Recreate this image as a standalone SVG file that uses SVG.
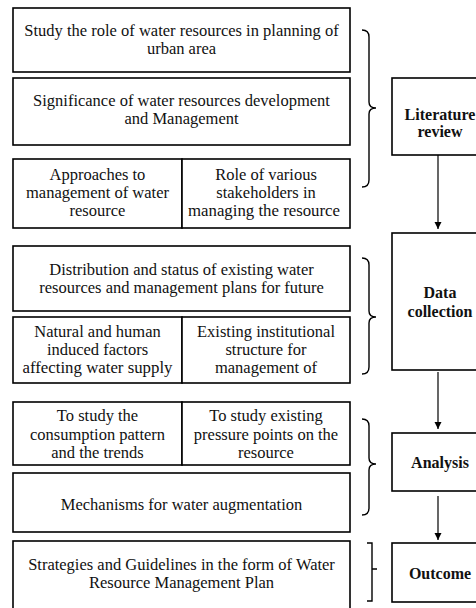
<svg xmlns="http://www.w3.org/2000/svg" width="476" height="608" viewBox="0 0 476 608">
<style>
.b{fill:#fff;stroke:#000;stroke-width:1.6}
.t{font-family:"Liberation Serif","Times New Roman",serif;font-size:16.5px;fill:#111;text-anchor:middle}
.h{font-family:"Liberation Serif","Times New Roman",serif;font-size:16px;font-weight:bold;fill:#111;text-anchor:middle}
.br{fill:none;stroke:#000;stroke-width:1.4}
.c{stroke:#000;stroke-width:1.2;fill:none}
</style>
<defs>
<marker id="ah" markerWidth="8" markerHeight="8" refX="7" refY="4" orient="auto" markerUnits="userSpaceOnUse">
<path d="M0,0.5 L7,4 L0,7.5 Z" fill="#000"/>
</marker>
</defs>
<rect width="476" height="608" fill="#fff"/>

<g id="n-study-role"><rect class="b" x="13" y="8" width="337" height="64"/>
<text class="t" x="181.5" y="36">Study the role of water resources in planning of</text>
<text class="t" x="181.5" y="54">urban area</text></g>

<g id="n-significance"><rect class="b" x="13" y="78" width="337" height="67"/>
<text class="t" x="181.5" y="106">Significance of water resources development</text>
<text class="t" x="181.5" y="124">and Management</text></g>

<g id="n-approaches"><rect class="b" x="13" y="159" width="169" height="69"/>
<text class="t" x="97.5" y="180">Approaches to</text>
<text class="t" x="97.5" y="198">management of water</text>
<text class="t" x="97.5" y="216">resource</text></g>

<g id="n-stakeholders"><rect class="b" x="182" y="159" width="168" height="69"/>
<text class="t" x="266" y="180">Role of various</text>
<text class="t" x="266" y="198">stakeholders in</text>
<text class="t" x="264" y="216" textLength="152" lengthAdjust="spacingAndGlyphs">managing the resource</text></g>

<g id="n-distribution"><rect class="b" x="13" y="246" width="337" height="65"/>
<text class="t" x="181.5" y="275">Distribution and status of existing water</text>
<text class="t" x="181.5" y="293">resources and management plans for future</text></g>

<g id="n-natural"><rect class="b" x="13" y="317" width="169" height="66"/>
<text class="t" x="97.5" y="337">Natural and human</text>
<text class="t" x="97.5" y="355">induced factors</text>
<text class="t" x="97.5" y="373" textLength="150" lengthAdjust="spacingAndGlyphs">affecting water supply</text></g>

<g id="n-institutional"><rect class="b" x="182" y="317" width="168" height="66"/>
<text class="t" x="266" y="337">Existing institutional</text>
<text class="t" x="266" y="355">structure for</text>
<text class="t" x="266" y="373">management of</text></g>

<g id="n-consumption"><rect class="b" x="13" y="402" width="169" height="63"/>
<text class="t" x="97.5" y="421">To study the</text>
<text class="t" x="97.5" y="440">consumption pattern</text>
<text class="t" x="97.5" y="458">and the trends</text></g>

<g id="n-pressure"><rect class="b" x="182" y="402" width="168" height="63"/>
<text class="t" x="266" y="421">To study existing</text>
<text class="t" x="266" y="440">pressure points on the</text>
<text class="t" x="266" y="458">resource</text></g>

<g id="n-mechanisms"><rect class="b" x="13" y="473" width="337" height="59"/>
<text class="t" x="181.5" y="510">Mechanisms for water augmentation</text></g>

<g id="n-strategies"><rect class="b" x="13" y="541" width="337" height="80"/>
<text class="t" x="181.5" y="570">Strategies and Guidelines in the form of Water</text>
<text class="t" x="181.5" y="588">Resource Management Plan</text></g>

<g id="n-literature"><rect class="b" x="392" y="78" width="100" height="77"/>
<text class="h" x="440" y="120">Literature</text>
<text class="h" x="440" y="137">review</text></g>

<g id="n-data"><rect class="b" x="392" y="233" width="100" height="137"/>
<text class="h" x="440" y="298">Data</text>
<text class="h" x="440" y="317">collection</text></g>

<g id="n-analysis"><rect class="b" x="392" y="433" width="100" height="58"/>
<text class="h" x="440" y="468">Analysis</text></g>

<g id="n-outcome"><rect class="b" x="392" y="543" width="100" height="59"/>
<text class="h" x="440" y="579">Outcome</text></g>

<g id="connectors">
<path class="br" d="M362,30 Q369,30 369,37 L369,102 Q369,108 376,108 Q369,108 369,114 L369,180 Q369,187 362,187"/>
<path class="br" d="M362,258 Q369,258 369,265 L369,311 Q369,317 376,317 Q369,317 369,323 L369,367 Q369,374 362,374"/>
<path class="br" d="M362,419 Q369,419 369,426 L369,458 Q369,464 376,464 Q369,464 369,470 L369,508 Q369,515 362,515"/>
<path class="br" stroke-width="2" d="M367,543 L372,543 L372,569 L377,569 M372,569 L372,601 L367,601"/>
<line class="c" x1="438" y1="155" x2="438" y2="229" marker-end="url(#ah)"/>
<line class="c" x1="438" y1="372" x2="438" y2="429" marker-end="url(#ah)"/>
<line class="c" x1="438" y1="496" x2="438" y2="540" marker-end="url(#ah)"/>
</g>
</svg>
